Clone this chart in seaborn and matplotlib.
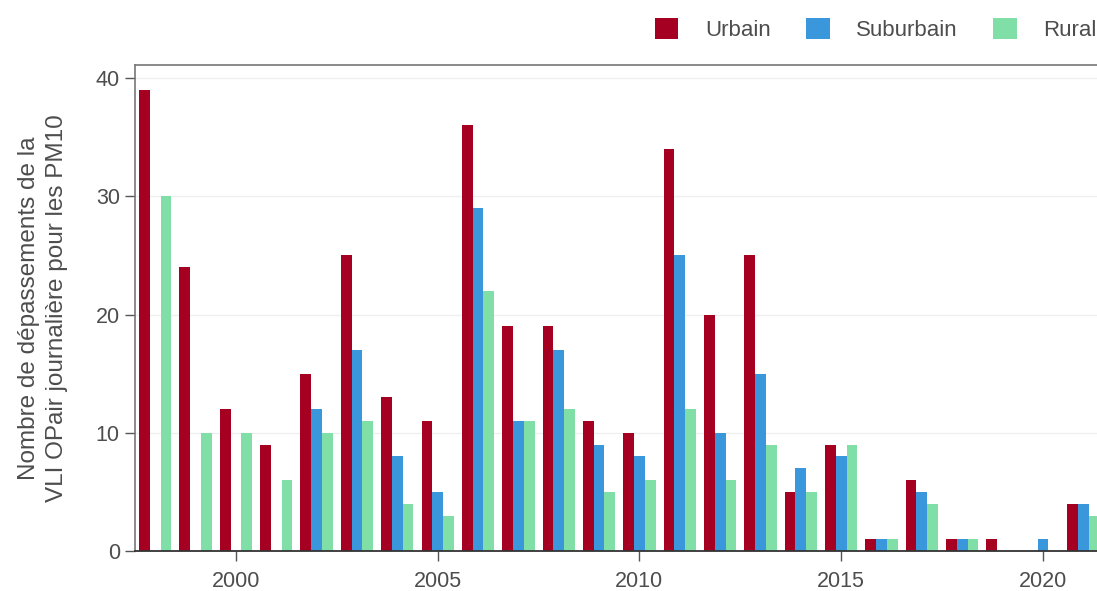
import matplotlib
matplotlib.use('Agg')
import matplotlib.pyplot as plt
from matplotlib.patches import Patch
import seaborn as sns
import pandas as pd

# Données : dépassements de la VLI OPair journalière PM10
annees = list(range(1998, 2022))
urbain = [39, 24, 12, 9, 15, 25, 13, 11, 36, 19, 19, 11, 10, 34, 20, 25, 5, 9, 1, 6, 1, 1, 0, 4]
suburbain = [0, 0, 0, 0, 12, 17, 8, 5, 29, 11, 17, 9, 8, 25, 10, 15, 7, 8, 1, 5, 1, 0, 1, 4]
rural = [30, 10, 10, 6, 10, 11, 4, 3, 22, 11, 12, 5, 6, 12, 6, 9, 5, 9, 1, 4, 1, 0, 0, 3]
zones = ['Urbain', 'Suburbain', 'Rural']
couleurs = {'Urbain': '#A50021', 'Suburbain': '#3A97DC', 'Rural': '#80DFA7'}

df = pd.DataFrame({'annee': annees, 'Urbain': urbain,
                   'Suburbain': suburbain, 'Rural': rural})
df = df.melt(id_vars='annee', var_name='zone', value_name='n')

sns.set_style('white')
plt.rcParams['font.family'] = ['Liberation Sans', 'DejaVu Sans']
gris = '#4d4d4d'

fig = plt.figure(figsize=(10.97, 5.91), dpi=100)
ax = fig.add_axes([0.1231, 0.0677, 0.8769, 0.8223])

sns.barplot(data=df, x='annee', y='n', hue='zone', hue_order=zones,
            palette=couleurs, native_scale=True, width=0.8,
            saturation=1, linewidth=0, legend=False, ax=ax)

ax.set_xlim(1997.5, 2021.34)
ax.set_ylim(0, 41.1)
ax.set_xticks([2000, 2005, 2010, 2015, 2020])
ax.set_yticks([0, 10, 20, 30, 40])
ax.set_xlabel('')
ax.set_ylabel('Nombre de dépassements de la\nVLI OPair journalière pour les PM10',
              fontsize=17.5, color=gris, linespacing=1.35)
ax.yaxis.set_label_coords(-0.0696, 0.5)
ax.tick_params(axis='both', labelsize=15.5, labelcolor=gris, colors='#555555',
               length=7, width=1, direction='out', left=True, bottom=True)
ax.tick_params(axis='x', pad=7.5)
ax.tick_params(axis='y', pad=4)
ax.grid(axis='y', color='#efefef', linewidth=0.9)
ax.set_axisbelow(True)

for cote in ['left', 'top']:
    ax.spines[cote].set_color('#777777')
    ax.spines[cote].set_linewidth(1.2)
ax.spines['bottom'].set_color('#333333')
ax.spines['bottom'].set_linewidth(1.3)
ax.spines['right'].set_visible(False)

poignees = [Patch(facecolor=couleurs[z], edgecolor='none', label=z) for z in zones]
fig.legend(handles=poignees, loc='center left', bbox_to_anchor=(0.597, 0.950),
           ncol=3, frameon=False, fontsize=16, handlelength=1.05, handleheight=1.05,
           handletextpad=1.2, columnspacing=1.6, borderpad=0, borderaxespad=0,
           labelcolor=gris)

fig.savefig('out.png', dpi=100)
